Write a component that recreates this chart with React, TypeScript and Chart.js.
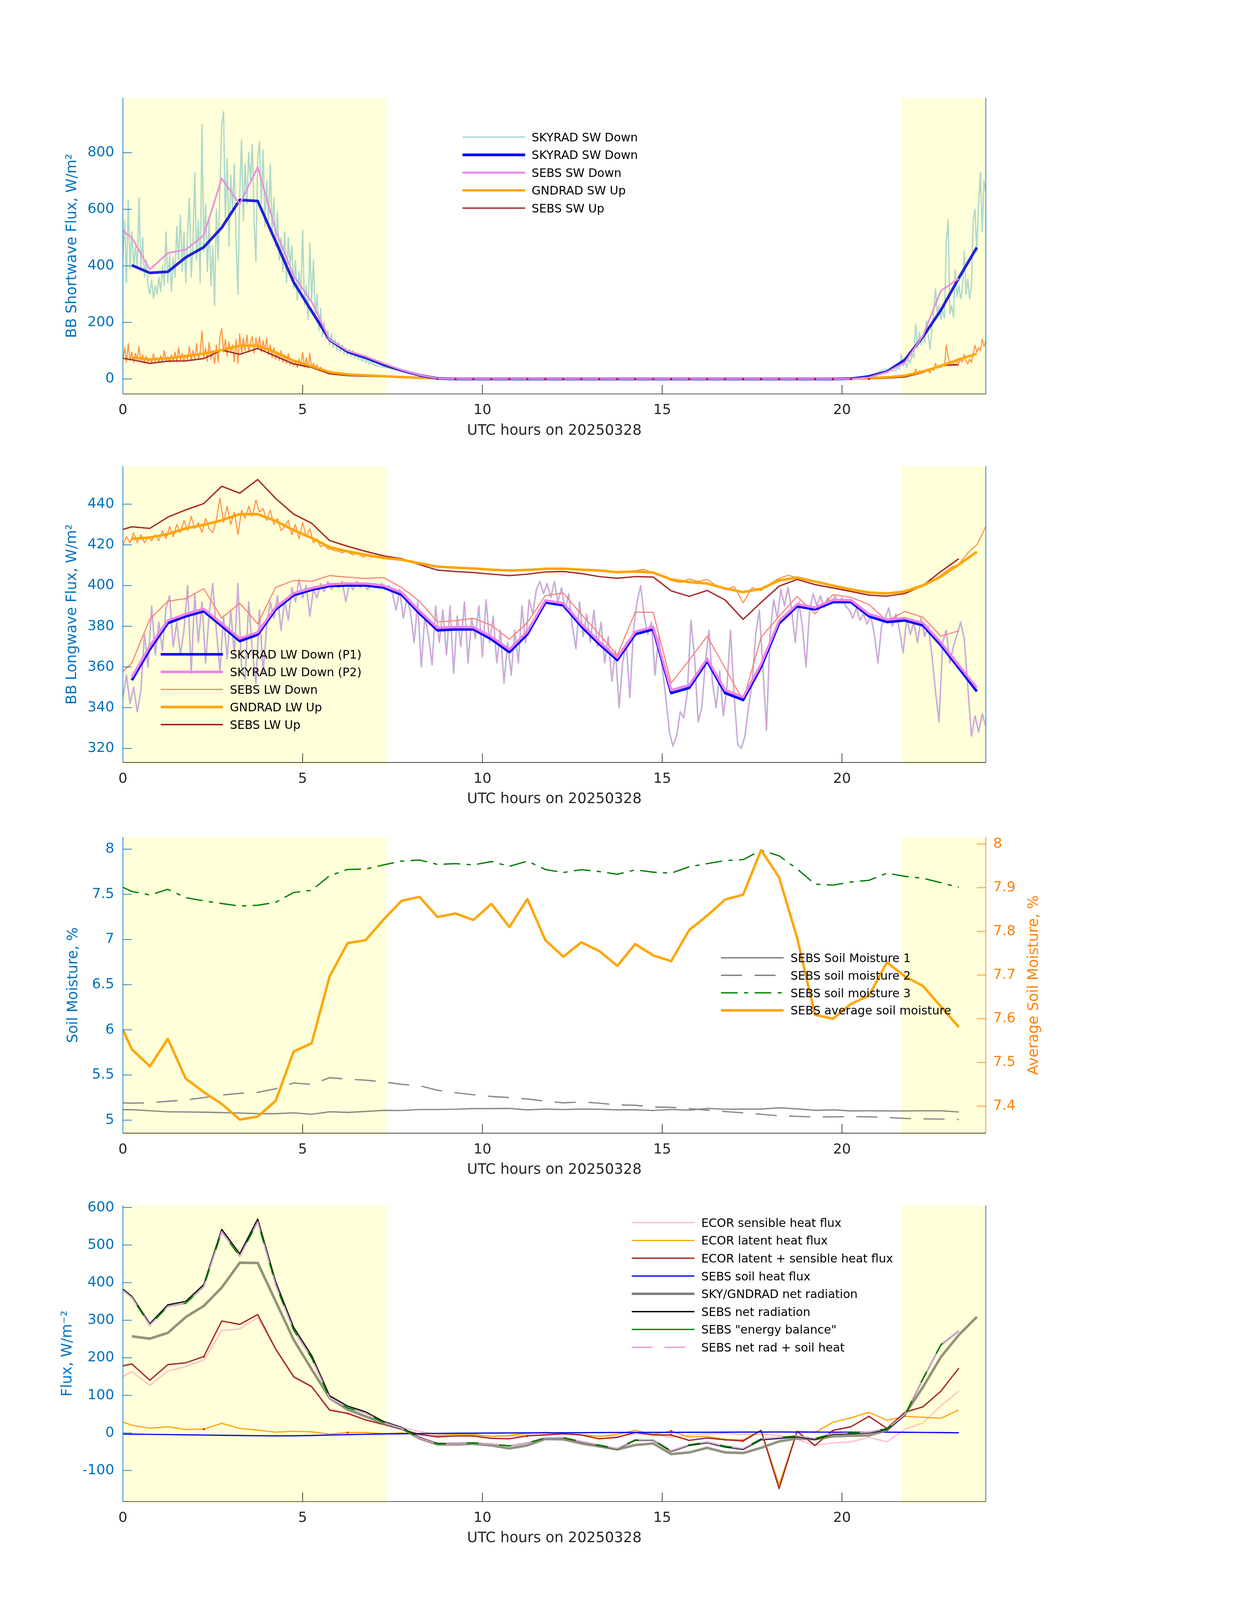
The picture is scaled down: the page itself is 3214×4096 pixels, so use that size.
import React, { useEffect, useRef } from "react";
import { Chart, registerables } from "chart.js";

Chart.register(...registerables);

// ---------------- page geometry ----------------
const W = 3214;
const PAGE_H = 4096;
const K = 0.84;
const FONT = "'DejaVu Sans', 'Liberation Sans', sans-serif";
const AXIS_BLUE = "#0072bd";
const AXIS_DARK = "#262626";
const AXIS_ORANGE = "#ff8000";
const SHADE = "#ffffd9";

const PLOT_LEFT = 374.6 * K;
const PLOT_RIGHT = 3005.5 * K;
const PLOT_H = 902.5 * K;
const PLOT_TOPS = [298.1 * K, 1421.1 * K, 2551.0 * K, 3673.7 * K];
const X_AREA = 140;
const TICK_LEN = 23;

// ---------------- shared axes data ----------------
const X_TITLE = "UTC hours on 20250328";
const xTicks = [0, 5, 10, 15, 20];
const nightSpans = [
  [0, 7.33],
  [21.67, 24],
];

const skyTimes = [
  0.25, 0.75, 1.25, 1.75, 2.25, 2.75, 3.25, 3.75, 4.25, 4.75, 5.25, 5.75, 6.25, 6.75, 7.25, 7.75,
  8.25, 8.75, 9.25, 9.75, 10.25, 10.75, 11.25, 11.75, 12.25, 12.75, 13.25, 13.75, 14.25, 14.75,
  15.25, 15.75, 16.25, 16.75, 17.25, 17.75, 18.25, 18.75, 19.25, 19.75, 20.25, 20.75, 21.25,
  21.75, 22.25, 22.75, 23.25, 23.75,
];
const sebsTimes = [
  0, 0.25, 0.75, 1.25, 1.75, 2.25, 2.75, 3.25, 3.75, 4.25, 4.75, 5.25, 5.75, 6.25, 6.75, 7.25,
  7.75, 8.25, 8.75, 9.25, 9.75, 10.25, 10.75, 11.25, 11.75, 12.25, 12.75, 13.25, 13.75, 14.25,
  14.75, 15.25, 15.75, 16.25, 16.75, 17.25, 17.75, 18.25, 18.75, 19.25, 19.75, 20.25, 20.75,
  21.25, 21.75, 22.25, 22.75, 23.25,
];

// ---------------- panel 1: shortwave ----------------
const swTicks = [0, 200, 400, 600, 800];
const swTickLabels = ["0", "200", "400", "600", "800"];
const skyradSwDown = [
  402, 375, 379, 430, 466, 535, 633, 629, 486, 342, 240, 138, 96, 75, 50, 30, 13, 2, // 0.25-8.75
  0, 0, 0, 0, 0, 0, 0, 0, 0, 0, 0, // 9.25-14.25
  0, 0, 0, 0, 0, 0, 0, 0, 0, 0, 0, // 14.75-19.75
  1, 9, 26, 68, 149, 243, 357, 465, // 20.25-23.75
];
const gndradSwUp = [
  75, 69, 73, 81, 90, 102, 118, 118, 94, 65, 45, 24, 16, 13, 10, 7, 4, 2, // 0.25-8.75
  0, 0, 0, 0, 0, 0, 0, 0, 0, 0, 0, // 9.25-14.25
  0, 0, 0, 0, 0, 0, 0, 0, 0, 0, 0, // 14.75-19.75
  1, 3, 6, 12, 26, 46, 69, 89, // 20.25-23.75
];
const sebsSwDown = [
  524, 499, 387, 445, 457, 508, 709, 618, 749, 525, 365, 273, 139, 100, 80, 55, 32, 14, 2, // 0-8.75
  0, 0, 0, 0, 0, 0, 0, 0, 0, 0, 0, // 9.25-14.25
  0, 0, 0, 0, 0, 0, 0, 0, 0, 0, 0, // 14.75-19.75
  0, 5, 24, 58, 153, 312, 355, // 20.25-23.25
];
const sebsSwUp = [
  73, 68, 55, 63, 64, 72, 102, 87, 108, 80, 53, 41, 18, 12, 10, 8, 5, 3, 1, // 0-8.75
  0, 0, 0, 0, 0, 0, 0, 0, 0, 0, 0, // 9.25-14.25
  0, 0, 0, 0, 0, 0, 0, 0, 0, 0, 0, // 14.75-19.75
  0, 1, 3, 7, 23, 48, 50, // 20.25-23.25
];
// 1-min style SKYRAD SW down (morning, every 0.05 h from 0)
const swDownFineMorning = [
  420, 560, 340, 630, 390, 520, 400, 470, 395, 640,
  380, 500, 360, 420, 330, 300, 350, 285, 330, 300,
  360, 310, 400, 330, 520, 340, 440, 310, 430, 360,
  540, 420, 580, 380, 520, 340, 520, 640, 360, 480,
  730, 420, 560, 340, 900, 450, 620, 380, 560, 330,
  470, 260, 600, 420, 680, 900, 945, 560, 780, 470,
  720, 600, 760, 480, 300, 650, 845, 560, 760, 620,
  800, 700, 830, 560, 415, 780, 840, 620, 810, 540,
  700, 560, 760, 520, 640, 470, 590, 420, 500, 380,
  520, 340, 500, 400, 470, 320, 420, 280, 380, 300,
  525, 260, 330, 210, 480, 280, 420, 220, 300, 170,
  250, 150, 200, 140, 170, 120, 160, 110, 140, 100,
  130, 95, 120, 90, 110, 85, 105, 80, 100, 75,
  90, 70, 80, 62, 75, 58, 68, 52, 60,
];
const swDownFineMidTimes = [6.95, 7.0, 7.5, 8.0, 8.5, 9.0, 20.25, 20.6, 20.9, 21.2, 21.45];
const swDownFineMid = [55, 48, 36, 19, 6, 0, 0, 8, 18, 35, 28];
// evening, every 0.05 h from 21.5
const swDownFineEvening = [
  30, 40, 35, 87, 45, 60, 40, 70, 55, 90,
  75, 194, 110, 165, 120, 150, 130, 205, 150, 105,
  180, 240, 318, 230, 260, 210, 240, 215, 485, 563,
  230, 260, 218, 385, 290, 330, 283, 320, 453, 300,
  354, 283, 330, 560, 600, 450, 620, 730, 520, 700,
  660,
];
// 1-min style GNDRAD SW up (every 0.05 h from 0)
const swUpFineMorning = [
  70, 110, 60, 125, 65, 95, 58, 90, 70, 115,
  62, 85, 55, 80, 60, 72, 55, 90, 62, 75,
  58, 82, 60, 100, 65, 78, 58, 85, 62, 95,
  60, 110, 68, 90, 60, 85, 70, 115, 65, 100,
  72, 125, 68, 95, 170, 75, 110, 62, 130, 70,
  95, 55, 120, 60, 150, 178, 95, 140, 80, 130,
  95, 120, 60, 140, 55, 160, 90, 145, 100, 155,
  95, 130, 150, 90, 145, 105, 150, 95, 135, 100,
  145, 85, 120, 75, 110, 70, 95, 65, 100, 60,
  85, 55, 90, 50, 70, 48, 60, 40, 70, 45,
  95, 42, 75, 38, 90, 40, 55, 35, 50, 30,
  42, 28, 35, 25, 30, 22, 28, 20, 25, 18,
  22,
];
const swUpFineMidTimes = [6.5, 7.0, 8.0, 9.0, 20.5, 21.0, 21.5];
const swUpFineMid = [15, 11, 5, 0, 0, 3, 6];
// every 0.05 h from 21.7
const swUpFineEvening = [
  8, 12, 10, 15, 12, 20, 16, 35, 20, 28,
  22, 30, 25, 35, 28, 22, 38, 30, 55, 42,
  48, 40, 52, 45, 120, 80, 60, 48, 55, 50,
  62, 55, 70, 60, 87, 65, 53, 70, 58, 90,
  119, 95, 110, 100, 140, 115, 133,
];
const swFlagTimes = [
  8.75, 9.25, 9.75, 10.25, 10.75, 11.25, 11.75, 12.25, 12.75, 13.25, 13.75, 14.25, 14.75, 15.25,
  15.75, 16.25, 16.75, 17.25, 17.75, 18.25, 18.75, 19.25, 19.75, 20.25, 20.75,
];
const swFlagValues = [0, 0, 0, 0, 0, 0, 0, 0, 0, 0, 0, 0, 0, 0, 0, 0, 0, 0, 0, 0, 0, 0, 0, 0, 0];

// ---------------- panel 2: longwave ----------------
const lwTicks = [320, 340, 360, 380, 400, 420, 440];
const lwTickLabels = ["320", "340", "360", "380", "400", "420", "440"];
const skyradLwDownP1 = [
  353.5, 368.7, 381.5, 384.9, 387.4, 380.1, 372.7, 375.9, 388.3, 395.3, 397.9, 399.8, 400.1,
  400.1, 399.0, 395.5, 386.3, 378.0, 378.5, 378.5, 373.6, 367.3, 376.1, 391.7, 390.3, 380.0,
  371.2, 363.4, 376.1, 378.5, 347.2, 349.7, 362.9, 347.2, 343.8, 360.0, 381.4, 389.8, 388.3,
  391.9, 391.9, 384.9, 382.1, 382.9, 380.5, 370.7, 359.5, 348.0,
];
const skyradLwDownP2 = [
  355.0, 370.2, 382.8, 386.0, 388.5, 381.3, 374.0, 377.0, 389.3, 396.2, 398.7, 400.6, 401.0,
  401.0, 400.0, 396.6, 387.5, 379.2, 379.6, 379.5, 374.8, 368.6, 377.4, 392.7, 391.3, 381.2,
  372.4, 364.6, 377.3, 379.6, 348.6, 351.0, 364.0, 348.6, 345.2, 361.4, 382.6, 390.8, 389.2,
  392.9, 392.8, 386.0, 383.3, 384.0, 381.6, 372.0, 360.8, 349.8,
];
const sebsLwDown = [
  357.8, 362.0, 383.5, 392.3, 393.6, 398.5, 384.0, 391.4, 381.2, 399.1, 402.5, 402.1, 404.9,
  404.1, 403.5, 403.9, 399.1, 392.2, 382.2, 382.7, 383.9, 380.5, 373.6, 381.9, 395.1, 396.3,
  385.9, 376.1, 365.8, 387.0, 386.8, 352.1, 363.4, 375.1, 359.5, 343.3, 374.6, 384.9, 394.7,
  386.1, 395.6, 394.2, 390.7, 382.7, 387.3, 384.4, 375.1, 377.8,
];
const gndradLwUp = [
  423.0, 423.6, 425.3, 428.1, 429.8, 432.1, 435.1, 435.1, 431.7, 427.2, 423.4, 418.9, 416.8,
  415.1, 413.6, 412.7, 411.0, 409.3, 408.8, 408.4, 407.8, 407.4, 407.7, 408.2, 408.3, 407.8,
  407.4, 406.6, 406.9, 406.4, 403.0, 401.7, 401.0, 398.6, 396.8, 398.4, 402.5, 403.9, 402.0,
  400.0, 398.1, 396.6, 396.1, 397.1, 400.0, 404.4, 410.3, 416.6,
];
const sebsLwUp = [
  427.6, 428.9, 428.1, 433.6, 437.2, 440.3, 448.8, 445.4, 452.1, 442.8, 435.1, 430.6, 422.1,
  419.3, 416.8, 414.6, 413.2, 410.3, 407.6, 406.9, 406.4, 405.6, 404.9, 405.6, 406.7, 406.9,
  405.9, 404.4, 403.6, 404.4, 404.2, 397.4, 394.7, 397.6, 392.9, 383.4, 391.7, 399.7, 403.0,
  400.5, 398.8, 397.1, 395.3, 394.8, 396.1, 400.0, 406.9, 413.2,
];
// fine LW down, every 0.1 h from 0
const lwDownFine = [
  345, 356, 342, 350, 338, 348, 376, 360, 390, 366,
  382, 368, 389, 395, 370, 382, 366, 378, 400, 357,
  396, 372, 392, 362, 386, 401, 378, 358, 385, 364,
  388, 366, 401, 360, 354, 392, 368, 352, 388, 357,
  380, 392, 384, 395, 378, 393, 383, 399, 392, 403,
  394, 400, 385, 398, 394, 401, 397, 402, 398, 401,
  399, 402, 392, 401, 398, 402, 399, 401, 398, 400,
  401, 399, 401, 398, 400, 396, 388, 398, 384, 394,
  387, 372, 392, 360, 385, 375, 361, 390, 372, 388,
  366, 390, 357, 385, 370, 392, 362, 384, 374, 390,
  365, 393, 372, 385, 362, 378, 352, 372, 356, 378,
  362, 390, 372, 393, 386, 398, 402, 396, 401, 394,
  402, 392, 399, 388, 396, 380, 369, 392, 375, 386,
  372, 388, 370, 382, 362, 375, 353, 368, 340, 362,
  372, 345, 378, 392, 400, 385, 376, 382, 356, 375,
  360, 345, 328, 321, 326, 338, 335, 348, 383, 365,
  333, 340, 362, 378, 352, 340, 358, 336, 350, 378,
  346, 322, 320, 326, 340, 352, 376, 388, 360, 329,
  376, 393, 384, 398, 390, 399, 388, 372, 392, 380,
  360, 388, 396, 390, 395, 389, 394, 391, 395, 392,
  394, 390, 388, 384, 389, 383, 386, 381, 385, 376,
  362, 380, 384, 389, 380, 386, 378, 367, 384, 376,
  382, 372, 384, 375, 380, 366, 348, 333, 372, 378,
  362, 370, 376, 382, 374, 350, 326, 336, 328, 337,
  331,
];
// fine LW up, every 0.1 h from 0 to 7
const lwUpFineMorning = [
  420, 424, 421, 426, 421, 425, 421, 424, 422, 425,
  422, 427, 423, 429, 424, 430, 426, 432, 427, 434,
  428, 431, 426, 433, 428, 426, 432, 443, 431, 439,
  430, 436, 425, 437, 433, 439, 434, 442, 436, 438,
  432, 437, 430, 433, 427, 429, 432, 425, 430, 423,
  431, 424, 428, 421, 423, 419, 420, 418, 418, 417,
  417, 416, 417, 416, 415, 416, 415, 414, 415, 414,
  414,
];
// fine LW up, every 0.25 h from 7.25
const lwUpFineRest = [
  413.5, 413, 412.5, 412, 411, 410, 409.5, 409, 408.8, 408.6,
  408.4, 408, 407.8, 407.5, 407.4, 407.5, 407.8, 408, 408.3, 408.4,
  408.3, 408, 407.8, 407.5, 407.2, 407, 406.6, 406.8, 407.3, 408,
  406, 404.5, 402.5, 401.5, 403.2, 402, 403, 400, 398, 399.5,
  391.5, 399, 397.5, 401, 403.5, 405, 404, 403, 402, 401,
  400, 399, 398, 397.5, 396.8, 396.3, 396, 396.3, 397.5, 399,
  400.5, 402.5, 405, 408.5, 410.5, 416, 420, 429,
];

// ---------------- panel 3: soil moisture ----------------
const smTicks = [5, 5.5, 6, 6.5, 7, 7.5, 8];
const smTickLabels = ["5", "5.5", "6", "6.5", "7", "7.5", "8"];
const avgTicks = [7.4, 7.5, 7.6, 7.7, 7.8, 7.9, 8];
const avgTickLabels = ["7.4", "7.5", "7.6", "7.7", "7.8", "7.9", "8"];
const soilMoisture1 = [
  5.116, 5.116, 5.104, 5.093, 5.091, 5.088, 5.084, 5.079, 5.072, 5.072, 5.081, 5.065, 5.093,
  5.086, 5.097, 5.109, 5.107, 5.118, 5.118, 5.121, 5.128, 5.128, 5.13, 5.114, 5.123, 5.118,
  5.123, 5.121, 5.114, 5.116, 5.107, 5.118, 5.111, 5.13, 5.121, 5.123, 5.123, 5.137, 5.125,
  5.109, 5.114, 5.102, 5.104, 5.102, 5.102, 5.104, 5.104, 5.091,
];
const soilMoisture2 = [
  5.192, 5.188, 5.192, 5.209, 5.223, 5.25, 5.278, 5.297, 5.308, 5.348, 5.412, 5.396, 5.47,
  5.454, 5.443, 5.424, 5.396, 5.382, 5.331, 5.304, 5.281, 5.262, 5.25, 5.234, 5.211, 5.192,
  5.202, 5.188, 5.169, 5.165, 5.146, 5.142, 5.128, 5.111, 5.095, 5.081, 5.065, 5.049, 5.042,
  5.035, 5.037, 5.039, 5.037, 5.03, 5.019, 5.014, 5.012, 5.007,
];
const soilMoisture3 = [
  7.578, 7.532, 7.493, 7.555, 7.463, 7.428, 7.398, 7.37, 7.379, 7.412, 7.52, 7.544, 7.706,
  7.775, 7.78, 7.826, 7.868, 7.88, 7.831, 7.84, 7.826, 7.863, 7.81, 7.868, 7.775, 7.741, 7.773,
  7.752, 7.722, 7.771, 7.745, 7.734, 7.805, 7.84, 7.873, 7.884, 7.988, 7.926, 7.782, 7.613,
  7.602, 7.636, 7.655, 7.734, 7.699, 7.678, 7.629, 7.578,
];
const soilMoistureAvg = [
  7.575, 7.53, 7.491, 7.554, 7.463, 7.432, 7.405, 7.369, 7.376, 7.412, 7.525, 7.544, 7.697,
  7.773, 7.78, 7.827, 7.87, 7.879, 7.833, 7.841, 7.826, 7.863, 7.81, 7.874, 7.78, 7.742, 7.775,
  7.755, 7.721, 7.771, 7.745, 7.732, 7.803, 7.836, 7.873, 7.884, 7.986, 7.924, 7.786, 7.609,
  7.6, 7.634, 7.653, 7.729, 7.697, 7.675, 7.628, 7.581,
];

// ---------------- panel 4: energy fluxes ----------------
const fluxTicks = [-100, 0, 100, 200, 300, 400, 500, 600];
const fluxTickLabels = ["-100", "0", "100", "200", "300", "400", "500", "600"];
const ecorSensible = [
  149.9, 163.4, 126.7, 164.6, 176.9, 194.0, 272.4, 276.7, 307.3, 221.6, 146.9, 121.8, 64.2,
  53.2, 34.8, 22.5, 14.9, 4.2, -3.8, -5.4, -5.4, -9.1, -9.1, -6.4, -3.8, -1.1, -3.8, -9.1, -9.1,
  -2.7, -2.7, -11.8, -6.4, -2.7, -1.1, -3.8, -3.8, -6.4, -17.1, -33.2, -26.8, -23.6, -11.8,
  -23.6, 9.6, 26.7, 72.6, 111.1,
];
const ecorLatent = [
  28.7, 20.7, 12.7, 16.4, 9.1, 10.3, 25.6, 12.1, 7.3, 2.3, 4.2, 2.9, -3.2, 1.1, 1.1, -2.0, 0.0,
  -4.9, -7.5, -3.8, -3.8, -9.1, -6.4, -1.1, 1.6, -2.2, -5.4, -9.1, -3.8, 6.9, -3.8, 5.3, -10.7,
  -9.1, -17.1, -18.2, 6.9, -137.4, 4.2, 1.6, 28.3, 40.1, 55.0, 33.6, 44.3, 41.6, 39.0, 61.4,
];
const ecorLatentPlusSensible = [
  178.7, 183.6, 140.1, 181.8, 186.7, 203.2, 298.1, 288.9, 315.2, 223.4, 149.9, 123.6, 60.5,
  51.9, 34.8, 22.5, 9.6, -3.8, -10.7, -8.1, -8.1, -14.5, -15.6, -7.5, -5.4, -2.2, -5.4, -15.6,
  -11.8, 1.6, -5.4, -5.4, -19.8, -13.4, -18.2, -21.4, 6.9, -148.1, 4.2, -33.2, 6.9, 16.5, 44.3,
  12.2, 55.0, 69.4, 111.1, 172.6,
];
const sebsSoilHeat = [
  -3.0, -3.2, -3.8, -4.3, -4.9, -5.6, -6.2, -6.8, -7.4, -7.9, -7.5, -6.8, -5.6, -4.5, -3.5, -2.7,
  -2.0, -1.6, -1.2, -0.9, -0.6, -0.3, 0.0, 0.2, 0.4, 0.6, 0.8, 1.0, 1.2, 1.3, 1.5, 1.6, 1.8, 1.9,
  2.1, 2.3, 2.4, 2.5, 2.4, 2.3, 2.2, 2.1, 2.2, 2.0, 1.8, 1.4, 1.0, 0.6,
];
const skyGndNetRad = [
  257.1, 251.0, 266.3, 308.5, 337.9, 386.9, 453.0, 452.4, 350.2, 247.9, 169.5, 93.0, 62.3,
  44.0, 25.6, 12.2, -14.5, -30.5, -30.5, -28.9, -33.2, -41.2, -33.2, -16.0, -17.1, -27.9,
  -35.9, -43.9, -32.1, -27.9, -56.2, -51.9, -39.6, -51.9, -53.5, -39.6, -22.5, -14.5, -17.1,
  -9.1, -7.5, -6.4, 6.9, 49.7, 121.8, 202.0, 260.8, 308.9,
];
const sebsNetRad = [
  382.6, 363.6, 290.8, 341.0, 350.2, 394.9, 541.8, 476.9, 569.4, 402.2, 280.9, 206.2, 99.1,
  71.5, 56.2, 30.5, 14.9, -11.8, -27.9, -27.9, -26.2, -29.5, -34.3, -26.8, -13.4, -12.9, -23.6,
  -33.2, -42.8, -19.8, -19.8, -49.2, -33.2, -26.2, -37.5, -43.9, -18.2, -14.5, -10.2, -17.1,
  -3.8, -2.2, 0.0, 9.6, 47.0, 143.2, 234.0, 271.4,
];
const sebsEnergyBalance = [
  379.6, 360.4, 287.0, 336.7, 345.3, 389.3, 535.6, 470.1, 562.0, 394.3, 273.4, 199.4, 93.5,
  67.0, 52.7, 27.8, 12.9, -13.4, -29.1, -28.8, -26.8, -29.8, -34.3, -26.6, -13.0, -12.3,
  -22.8, -32.2, -41.6, -18.5, -18.3, -47.6, -31.4, -24.3, -35.4, -41.6, -15.8, -12.0, -7.8,
  -14.8, -1.6, -0.1, 2.2, 11.6, 48.8, 144.6, 235.0, 272.0,
];
const fluxFlagTimes = [2.25, 2.25, 6.25, 6.25, 11.25, 15.25, 15.25, 16.75, 17.25];
const fluxFlagValues = [203, 10, 52, 1, -8, 5, -5, -18, -21];

// ---------------- helpers ----------------
const xy = (times: number[], values: number[]) =>
  values.map((v, i) => ({ x: times[i], y: v }));
const seq = (start: number, step: number, values: number[]) =>
  values.map((v, i) => ({ x: Math.round((start + i * step) * 10000) / 10000, y: v }));

function line(data: any[], color: string, width: number, extra: any = {}) {
  return {
    type: "line",
    data,
    borderColor: color,
    backgroundColor: color,
    borderWidth: width,
    pointRadius: 0,
    pointHoverRadius: 0,
    tension: 0,
    fill: false,
    borderJoinStyle: "round",
    borderCapStyle: "butt",
    spanGaps: true,
    ...extra,
  };
}
function dots(data: any[]) {
  return {
    type: "line",
    data,
    showLine: false,
    borderColor: "#ff0000",
    backgroundColor: "#ff0000",
    pointBackgroundColor: "#ff0000",
    pointBorderWidth: 0,
    pointRadius: 2.6,
    pointHoverRadius: 0,
  };
}

// ---------------- panel specs ----------------
type LegendItem = { label: string; color: string; width: number; dash?: number[] };
type PanelSpec = {
  plotTop: number;
  layers: any[]; // bottom -> top
  y: { min: number; max: number; ticks: number[]; labels: string[]; title: string; titleX: number };
  y2?: { min: number; max: number; ticks: number[]; labels: string[]; title: string; titleX: number };
  legend: { x0: number; x1: number; textX: number; y0: number; gap: number; items: LegendItem[] };
};

const panels: PanelSpec[] = [
  {
    plotTop: PLOT_TOPS[0],
    layers: [
      line(
        [
          ...seq(0, 0.05, swDownFineMorning),
          ...xy(swDownFineMidTimes, swDownFineMid),
          ...seq(21.5, 0.05, swDownFineEvening),
        ],
        "rgba(160,210,200,0.85)",
        3.4
      ),
      line(
        [
          ...seq(0, 0.05, swUpFineMorning),
          ...xy(swUpFineMidTimes, swUpFineMid),
          ...seq(21.7, 0.05, swUpFineEvening),
        ],
        "rgba(255,127,40,0.85)",
        2.8
      ),
      line(xy(sebsTimes, sebsSwUp), "#a52a2a", 3.5),
      line(xy(skyTimes, gndradSwUp), "#ffa500", 6),
      line(xy(skyTimes, skyradSwDown), "#2222d6", 7),
      line(xy(sebsTimes, sebsSwDown), "#ec8edc", 4.2),
      dots(xy(swFlagTimes, swFlagValues)),
    ],
    y: { min: -53, max: 994, ticks: swTicks, labels: swTickLabels, title: "BB Shortwave Flux, W/m²", titleX: 185 },
    legend: {
      x0: 1184.4,
      x1: 1344.8,
      textX: 1361.6,
      y0: 351.1,
      gap: 45.4,
      items: [
        { label: "SKYRAD SW Down", color: "#add8e6", width: 4 },
        { label: "SKYRAD SW Down", color: "#0000ff", width: 7 },
        { label: "SEBS SW Down", color: "#ee82ee", width: 5 },
        { label: "GNDRAD SW Up", color: "#ffa500", width: 6 },
        { label: "SEBS SW Up", color: "#a52a2a", width: 3.6 },
      ],
    },
  },
  {
    plotTop: PLOT_TOPS[1],
    layers: [
      line(seq(0, 0.1, lwDownFine), "rgba(173,216,230,0.95)", 4.2),
      line(seq(0, 0.1, lwDownFine), "#d9a2d6", 2.8),
      line([...seq(0, 0.1, lwUpFineMorning), ...seq(7.25, 0.25, lwUpFineRest)], "rgb(255,140,60)", 2.6),
      line(xy(sebsTimes, sebsLwDown), "#fa8072", 2.8),
      line(xy(sebsTimes, sebsLwUp), "#a52a2a", 3.5),
      line(xy(skyTimes, gndradLwUp), "#ffa500", 6.5),
      line(xy(skyTimes, skyradLwDownP1), "#0000ff", 6.7),
      line(xy(skyTimes, skyradLwDownP2), "#ee82ee", 6.2),
    ],
    y: { min: 313.1, max: 458.6, ticks: lwTicks, labels: lwTickLabels, title: "BB Longwave Flux, W/m²", titleX: 185 },
    legend: {
      x0: 411.6,
      x1: 570.9,
      textX: 588.8,
      y0: 1675,
      gap: 45.0,
      items: [
        { label: "SKYRAD LW Down (P1)", color: "#0000ff", width: 6.7 },
        { label: "SKYRAD LW Down (P2)", color: "#ee82ee", width: 6.7 },
        { label: "SEBS LW Down", color: "#fa8072", width: 2.8 },
        { label: "GNDRAD LW Up", color: "#ffa500", width: 6.5 },
        { label: "SEBS LW Up", color: "#a52a2a", width: 3.9 },
      ],
    },
  },
  {
    plotTop: PLOT_TOPS[2],
    layers: [
      line(xy(sebsTimes, soilMoisture1), "#8a8a8a", 3.4),
      line(xy(sebsTimes, soilMoisture2), "#8a8a8a", 3.4, { borderDash: [54, 32] }),
      line(xy(sebsTimes, soilMoisture3), "#008000", 3.4, { borderDash: [43, 16, 11, 16] }),
      line(xy(sebsTimes, soilMoistureAvg), "#ffa500", 6.2, { yAxisID: "y2" }),
    ],
    y: { min: 4.856, max: 8.134, ticks: smTicks, labels: smTickLabels, title: "Soil Moisture, %", titleX: 188 },
    y2: { min: 7.338, max: 8.016, ticks: avgTicks, labels: avgTickLabels, title: "Average Soil Moisture, %", titleX: 2648.5 },
    legend: {
      x0: 1846.3,
      x1: 2006.8,
      textX: 2024.4,
      y0: 2452,
      gap: 44.8,
      items: [
        { label: "SEBS Soil Moisture 1", color: "#808080", width: 3.4 },
        { label: "SEBS soil moisture 2", color: "#808080", width: 3.4, dash: [54, 32] },
        { label: "SEBS soil moisture 3", color: "#008000", width: 3.4, dash: [43, 16, 11, 16] },
        { label: "SEBS average soil moisture", color: "#ffa500", width: 6.5 },
      ],
    },
  },
  {
    plotTop: PLOT_TOPS[3],
    layers: [
      line(xy(sebsTimes, ecorSensible), "#ffc0cb", 3.4),
      line(xy(sebsTimes, ecorLatent), "#ffa500", 3),
      line(xy(sebsTimes, ecorLatentPlusSensible), "#a52a2a", 3.4),
      line(xy(sebsTimes, sebsSoilHeat), "#0a0ae6", 3.2),
      line(xy(skyTimes, skyGndNetRad), "rgba(128,128,105,0.85)", 6.5),
      line(xy(sebsTimes, sebsNetRad), "#101000", 3.2),
      line(xy(sebsTimes, sebsEnergyBalance), "#008000", 3.4),
      line(xy(sebsTimes, sebsEnergyBalance), "#dda0dd", 3.4, { borderDash: [53, 31] }),
      dots(xy(fluxFlagTimes, fluxFlagValues)),
    ],
    y: { min: -182.6, max: 605.5, ticks: fluxTicks, labels: fluxTickLabels, title: "Flux, W/m⁻²", titleX: 173 },
    legend: {
      x0: 1617.8,
      x1: 1778.3,
      textX: 1795.9,
      y0: 3129.8,
      gap: 45.6,
      items: [
        { label: "ECOR sensible heat flux", color: "#ffc0cb", width: 3.4 },
        { label: "ECOR latent heat flux", color: "#ffa500", width: 3 },
        { label: "ECOR latent + sensible heat flux", color: "#a52a2a", width: 3.4 },
        { label: "SEBS soil heat flux", color: "#0000ff", width: 3.2 },
        { label: "SKY/GNDRAD net radiation", color: "#808080", width: 6.2 },
        { label: "SEBS net radiation", color: "#000000", width: 3.4 },
        { label: 'SEBS "energy balance"', color: "#008000", width: 3.4 },
        { label: "SEBS net rad + soil heat", color: "#dda0dd", width: 3.4, dash: [53, 31] },
      ],
    },
  },
];

// ---------------- chart config builder ----------------
function tickLabel(ticks: number[], labels: string[], v: number) {
  const i = ticks.findIndex((t) => Math.abs(t - v) < 1e-9);
  return i >= 0 ? labels[i] : "";
}

function buildPanel(spec: PanelSpec) {
  const canvasTop = Math.round(spec.plotTop - 60);
  const padTop = spec.plotTop - canvasTop;
  const height = Math.ceil(padTop + PLOT_H + X_AREA);
  const padBottom = height - (padTop + PLOT_H + X_AREA);
  const hasY2 = !!spec.y2;
  const n = spec.layers.length;
  const datasets = spec.layers.map((d, i) => ({ ...d, order: n - i }));

  const scales: any = {
    x: {
      type: "linear",
      min: 0,
      max: 24,
      afterBuildTicks: (s: any) => {
        s.ticks = xTicks.map((v) => ({ value: v }));
      },
      afterFit: (s: any) => {
        s.height = X_AREA;
      },
      grid: { display: false, drawTicks: false },
      border: { display: false },
      ticks: {
        color: AXIS_DARK,
        font: { family: FONT, size: 36 },
        padding: 21,
        maxRotation: 0,
        autoSkip: false,
        callback: (v: number) => String(v),
      },
      title: {
        display: true,
        text: X_TITLE,
        color: AXIS_DARK,
        font: { family: FONT, size: 37 },
        padding: { top: 0, bottom: 23 },
      },
    },
    y: {
      type: "linear",
      position: "left",
      min: spec.y.min,
      max: spec.y.max,
      afterBuildTicks: (s: any) => {
        s.ticks = spec.y.ticks.map((v) => ({ value: v }));
      },
      afterFit: (s: any) => {
        s.width = PLOT_LEFT;
      },
      grid: { display: false, drawTicks: false },
      border: { display: false },
      ticks: {
        color: AXIS_BLUE,
        font: { family: FONT, size: 36 },
        padding: 22,
        autoSkip: false,
        callback: (v: number) => tickLabel(spec.y.ticks, spec.y.labels, v),
      },
      title: {
        display: true,
        text: spec.y.title,
        color: AXIS_BLUE,
        font: { family: FONT, size: 37 },
        padding: { top: spec.y.titleX - 22.2, bottom: 0 },
      },
    },
  };
  if (hasY2) {
    const y2 = spec.y2!;
    scales.y2 = {
      type: "linear",
      position: "right",
      min: y2.min,
      max: y2.max,
      afterBuildTicks: (s: any) => {
        s.ticks = y2.ticks.map((v) => ({ value: v }));
      },
      afterFit: (s: any) => {
        s.width = W - PLOT_RIGHT;
      },
      grid: { display: false, drawTicks: false },
      border: { display: false },
      ticks: {
        color: AXIS_ORANGE,
        font: { family: FONT, size: 36 },
        padding: 19,
        autoSkip: false,
        callback: (v: number) => tickLabel(y2.ticks, y2.labels, v),
      },
      title: { display: false },
    };
  }

  const shadePlugin = {
    id: "nightShade",
    beforeDatasetsDraw(chart: any) {
      const { ctx, chartArea: a, scales: sc } = chart;
      ctx.save();
      ctx.fillStyle = SHADE;
      for (const [s, e] of nightSpans) {
        const x0 = sc.x.getPixelForValue(s);
        const x1 = sc.x.getPixelForValue(e);
        ctx.fillRect(x0, a.top, x1 - x0, a.bottom - a.top + 6);
      }
      ctx.restore();
    },
  };

  const axesPlugin = {
    id: "boxAxes",
    afterDatasetsDraw(chart: any) {
      const { ctx, chartArea: a, scales: sc } = chart;
      const seg = (x0: number, y0: number, x1: number, y1: number) => {
        ctx.beginPath();
        ctx.moveTo(x0, y0);
        ctx.lineTo(x1, y1);
        ctx.stroke();
      };
      ctx.save();
      ctx.setLineDash([]);
      ctx.lineWidth = 1.7;
      ctx.strokeStyle = AXIS_DARK;
      for (const v of xTicks) {
        if (v === 0) continue;
        const px = sc.x.getPixelForValue(v);
        seg(px, a.bottom, px, a.bottom - TICK_LEN);
      }
      ctx.strokeStyle = AXIS_BLUE;
      for (const v of spec.y.ticks) {
        const py = sc.y.getPixelForValue(v);
        seg(a.left, py, a.left + TICK_LEN, py);
      }
      if (hasY2) {
        ctx.strokeStyle = AXIS_ORANGE;
        for (const v of spec.y2!.ticks) {
          const py = sc.y2.getPixelForValue(v);
          seg(a.right, py, a.right - TICK_LEN, py);
        }
      }
      ctx.strokeStyle = AXIS_DARK;
      seg(a.left, a.bottom, a.right, a.bottom);
      ctx.strokeStyle = AXIS_BLUE;
      seg(a.left, a.top, a.left, a.bottom);
      ctx.strokeStyle = hasY2 ? AXIS_ORANGE : AXIS_BLUE;
      seg(a.right, a.top, a.right, a.bottom);
      ctx.restore();
    },
  };

  const legendPlugin = {
    id: "lineLegend",
    afterDraw(chart: any) {
      const ctx = chart.ctx;
      const L = spec.legend;
      const fs = 30;
      ctx.save();
      ctx.font = `${fs}px ${FONT}`;
      ctx.textBaseline = "alphabetic";
      ctx.textAlign = "left";
      L.items.forEach((it, i) => {
        const y = L.y0 + i * L.gap - canvasTop;
        ctx.strokeStyle = it.color;
        ctx.lineWidth = it.width;
        ctx.lineCap = "butt";
        ctx.setLineDash(it.dash || []);
        ctx.beginPath();
        ctx.moveTo(L.x0, y);
        ctx.lineTo(L.x1, y);
        ctx.stroke();
        ctx.setLineDash([]);
        ctx.fillStyle = "#000000";
        ctx.fillText(it.label, L.textX, y + fs * 0.3645);
      });
      ctx.restore();
    },
  };

  const plugins: any[] = [shadePlugin, axesPlugin, legendPlugin];
  if (hasY2) {
    plugins.push({
      id: "rightTitle",
      afterDraw(chart: any) {
        const { ctx, chartArea: a } = chart;
        ctx.save();
        ctx.translate(spec.y2!.titleX, (a.top + a.bottom) / 2);
        ctx.rotate(-Math.PI / 2);
        ctx.font = `37px ${FONT}`;
        ctx.fillStyle = AXIS_ORANGE;
        ctx.textAlign = "center";
        ctx.textBaseline = "middle";
        ctx.fillText(spec.y2!.title, 0, 0);
        ctx.restore();
      },
    });
  }

  const config: any = {
    type: "line",
    data: { datasets },
    options: {
      responsive: false,
      maintainAspectRatio: false,
      animation: false,
      devicePixelRatio: 1,
      events: [],
      layout: {
        padding: { top: padTop, left: 0, right: hasY2 ? 0 : W - PLOT_RIGHT, bottom: padBottom },
      },
      plugins: { legend: { display: false }, tooltip: { enabled: false }, title: { display: false } },
      scales,
    },
    plugins,
  };
  return { canvasTop, height, config };
}

function Panel({ spec }: { spec: PanelSpec }) {
  const ref = useRef<HTMLCanvasElement | null>(null);
  const built = buildPanel(spec);
  useEffect(() => {
    if (!ref.current) return;
    const b = buildPanel(spec);
    const chart = new Chart(ref.current, b.config);
    return () => chart.destroy();
  }, [spec]);
  return (
    <canvas
      ref={ref}
      width={W}
      height={built.height}
      style={{ position: "absolute", left: 0, top: built.canvasTop, width: W, height: built.height }}
    />
  );
}

export default function App() {
  return (
    <div
      style={{
        position: "absolute",
        left: 0,
        top: 0,
        width: W,
        height: PAGE_H,
        background: "#ffffff",
        overflow: "hidden",
      }}
    >
      {panels.map((p, i) => (
        <Panel key={i} spec={p} />
      ))}
    </div>
  );
}
